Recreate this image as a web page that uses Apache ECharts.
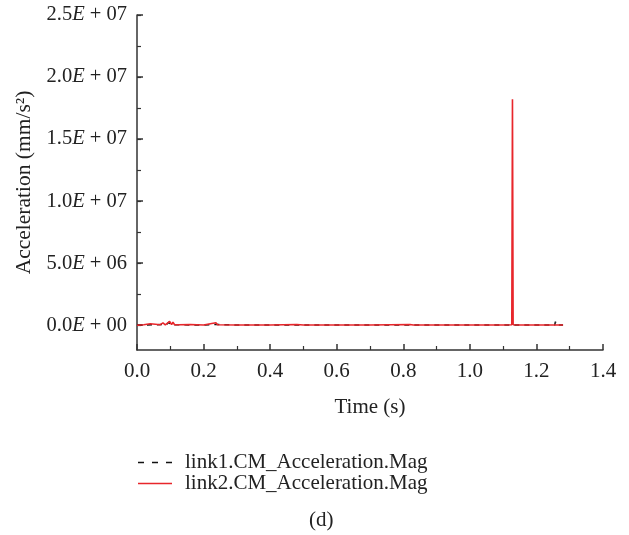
<!DOCTYPE html>
<html><head><meta charset="utf-8">
<script src="https://cdn.jsdelivr.net/npm/echarts@6/dist/echarts.min.js"></script>
<style>html,body{margin:0;padding:0;background:#fff}#c{width:629px;height:535px}</style>
</head><body><div id="c"></div>
<script>
const seriesNames = ['link1.CM_Acceleration.Mag', 'link2.CM_Acceleration.Mag'];
const xTicks = [0, 0.2, 0.4, 0.6, 0.8, 1.0, 1.2, 1.4];
const yTickValues = [0, 5e6, 1e7, 1.5e7, 2e7, 2.5e7];
const yTickLabels = ['0.0E + 00', '5.0E + 06', '1.0E + 07', '1.5E + 07', '2.0E + 07', '2.5E + 07'];
const yMinorTicks = [0, 2.5e6, 5e6, 7.5e6, 1e7, 1.25e7, 1.5e7, 1.75e7, 2e7, 2.25e7, 2.5e7];
// link1 (black dashed): [time s, acceleration mm/s^2]
const link1 = [[0,0],[0.03,2e4],[0.06,4e4],[0.09,6e4],[0.095,2.5e5],[0.1,4e4],[0.13,3e4],[0.2,1e4],[0.24,6e4],[0.3,1e4],
  [0.4,1e4],[0.5,2e4],[0.6,1e4],[0.7,1e4],[0.8,2e4],[0.9,1e4],[1.0,1e4],[1.1,1e4],[1.128,3e4],[1.15,1e4],
  [1.186,1e4],[1.188,1.2e5],[1.19,1e4],[1.255,1e4],[1.257,2.8e5],[1.259,1e4],[1.28,1e4]];
// link2 (red solid)
const link2 = [[0,0],[0.02,3e4],[0.04,1.2e5],[0.045,2e4],[0.07,4e4],[0.078,1.8e5],[0.085,3e4],[0.098,3e5],[0.104,5e4],
  [0.108,2.4e5],[0.113,4e4],[0.118,1.5e5],[0.125,3e4],[0.16,5e4],[0.2,2e4],[0.237,2e5],[0.239,3.2e5],[0.242,3e4],
  [0.3,1e4],[0.4,2e4],[0.48,5e4],[0.5,1e4],[0.6,2e4],[0.7,1e4],[0.82,6e4],[0.83,1e4],[0.9,2e4],[1.0,1e4],[1.1,2e4],
  [1.126,3e4],[1.128,1.82e7],[1.130,4e4],[1.15,1e4],[1.2,2e4],[1.25,1e4],[1.28,1e4]];

const FONT = 'Liberation Serif';
const axisColor = '#333';
const chart = echarts.init(document.getElementById('c'));
chart.setOption({
  animation: false,
  textStyle: {fontFamily: FONT, color: '#222'},
  grid: {left: 137, right: 26, top: 15, bottom: 185, containLabel: false, outerBoundsMode: 'none'},
  legend: {
    orient: 'vertical', left: 138, top: 452, padding: 0, itemWidth: 34, itemHeight: 2, itemGap: 0,
    textStyle: {fontFamily: FONT, fontSize: 21, color: '#222', lineHeight: 17, padding: [0, 0, 0, 8]},
    data: [
      {name: seriesNames[0], icon: 'path://M0,0h6v1.5h-6zM14,0h6v1.5h-6zM28,0h6v1.5h-6z'},
      {name: seriesNames[1], icon: 'path://M0,0h34v1.5h-34z'}
    ]
  },
  graphic: [{type: 'text', left: 309, top: 510, style: {text: '(d)', font: '21px "Liberation Serif"', fill: '#222'}}],
  xAxis: {
    type: 'value', min: 0, max: 1.4, interval: 0.2,
    name: 'Time (s)', nameLocation: 'middle', nameGap: 47,
    nameTextStyle: {fontFamily: FONT, fontSize: 21, color: '#222'},
    axisLine: {show: true, onZero: false, lineStyle: {color: axisColor, width: 1.5}},
    axisTick: {show: true, inside: true, length: 6, lineStyle: {color: axisColor, width: 1.5}},
    minorTick: {show: true, splitNumber: 2, length: 4, lineStyle: {color: axisColor, width: 1.2}},
    splitLine: {show: false},
    axisLabel: {fontFamily: FONT, fontSize: 21, color: '#222', margin: 11,
      formatter: v => v.toFixed(1)}
  },
  yAxis: [{
    type: 'value', min: -2e6, max: 2.5e7,
    name: 'Acceleration (mm/s²)', nameLocation: 'middle', nameGap: 100,
    nameTextStyle: {fontFamily: FONT, fontSize: 21.5, color: '#222'},
    axisLine: {show: true, lineStyle: {color: axisColor, width: 1.5}},
    axisTick: {show: true, inside: true, length: 4, customValues: yMinorTicks, lineStyle: {color: axisColor, width: 1.2}},
    splitLine: {show: false},
    axisLabel: {
      customValues: yTickValues, margin: 10, fontFamily: FONT, fontSize: 20, color: '#222',
      formatter: v => {
        const i = yTickValues.findIndex(t => Math.abs(t - v) < 1);
        const s = i >= 0 ? yTickLabels[i] : '';
        const p = s.split('E');
        return '{a|' + p[0] + '}{e|E}{a|' + p[1] + '}';
      },
      rich: {
        a: {fontFamily: FONT, fontSize: 20.5, color: '#222'},
        e: {fontFamily: FONT, fontSize: 20.5, color: '#222', fontStyle: 'italic'}
      }
    }
  }, {
    type: 'value', min: -2e6, max: 2.5e7, position: 'left',
    axisLine: {show: false},
    axisTick: {show: true, inside: true, length: 6, customValues: yTickValues, lineStyle: {color: axisColor, width: 1.5}},
    axisLabel: {show: false}, splitLine: {show: false}
  }],
  series: [{
    name: seriesNames[0], type: 'line', data: link1, symbol: 'none', showSymbol: false,
    lineStyle: {color: '#111', width: 1.5, type: [5, 5]}, itemStyle: {color: '#111'}, z: 2
  }, {
    name: seriesNames[1], type: 'line', data: link2, symbol: 'none', showSymbol: false,
    lineStyle: {color: '#e8262b', width: 1.6}, itemStyle: {color: '#e8262b'}, z: 3
  }]
});
</script></body></html>
